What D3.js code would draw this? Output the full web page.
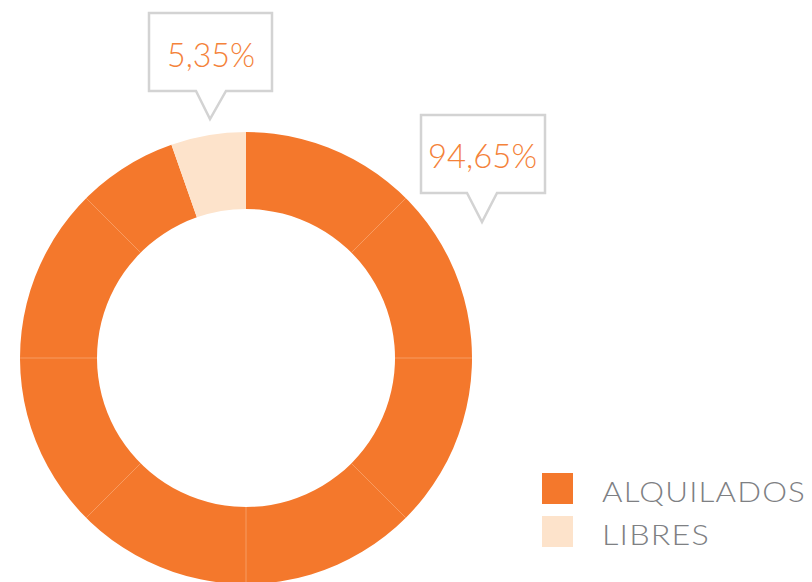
<!DOCTYPE html>
<html><head><meta charset="utf-8">
<script src="https://cdn.jsdelivr.net/npm/d3@7"></script>
<style>body{margin:0;background:#fff}svg{display:block}</style>
</head><body>
<script>
const categories = ["ALQUILADOS", "LIBRES"];
const values = [94.65, 5.35];
const labels = ["94,65%", "5,35%"];
const colors = ["#F4782C", "#FDE3CB"];

const W = 812, H = 582;
const svg = d3.select("body").append("svg").attr("width", W).attr("height", H);
const cx = 246, cy = 358, R = 226, r = 149;
const g = svg.append("g").attr("transform", `translate(${cx},${cy})`);

const pie = d3.pie().sort(null).value(d => d);
const arcs = pie(values);
const arc = d3.arc().innerRadius(r).outerRadius(R);
g.selectAll("path.slice").data(arcs).enter().append("path")
  .attr("class", "slice").attr("d", arc).attr("fill", (d, i) => colors[i]);

// faint seams in the orange ring every 45°
const seams = d3.range(1, 8).map(k => k * Math.PI / 4).filter(a => a < arcs[0].endAngle);
g.selectAll("line.seam").data(seams).enter().append("line")
  .attr("x1", a => r * Math.sin(a)).attr("y1", a => -r * Math.cos(a))
  .attr("x2", a => R * Math.sin(a)).attr("y2", a => -R * Math.cos(a))
  .attr("stroke", "#F9A56F").attr("stroke-width", 0.8);

// callouts
const callouts = [
  {box: [421, 115, 124, 78], tip: [482, 222], base: [467, 497], label: labels[0], tx: 482.5, ty: 168, tw: 109},
  {box: [149, 13, 123, 78], tip: [210, 119], base: [196, 226], label: labels[1], tx: 211, ty: 67, tw: 88}
];
callouts.forEach(c => {
  const [x, y, w, h] = c.box;
  const p = d3.path();
  p.moveTo(x, y); p.lineTo(x + w, y); p.lineTo(x + w, y + h);
  p.lineTo(c.base[1], y + h); p.lineTo(c.tip[0], c.tip[1]); p.lineTo(c.base[0], y + h);
  p.lineTo(x, y + h); p.closePath();
  svg.append("path").attr("d", p.toString()).attr("fill", "#fff")
    .attr("stroke", "#D3D3D3").attr("stroke-width", 2.5);
  svg.append("text").attr("x", c.tx).attr("y", c.ty).attr("text-anchor", "middle")
    .attr("font-family", "Lato, 'Open Sans', sans-serif").attr("font-weight", 300)
    .attr("font-size", 34).attr("fill", "#F4823A")
    .attr("textLength", c.tw).attr("lengthAdjust", "spacingAndGlyphs")
    .text(c.label);
});

// legend
const legendY = [473, 516];
const legendW = [204, 108];
const lg = svg.append("g");
categories.forEach((c, i) => {
  lg.append("rect").attr("x", 542).attr("y", legendY[i]).attr("width", 31).attr("height", 31)
    .attr("fill", colors[i]);
  lg.append("text").attr("x", 602).attr("y", legendY[i] + 29)
    .attr("font-family", "Lato, 'Open Sans', sans-serif").attr("font-weight", 300)
    .attr("font-size", 27).attr("fill", "#7E8083")
    .attr("letter-spacing", 1)
    .attr("textLength", legendW[i]).attr("lengthAdjust", "spacingAndGlyphs")
    .text(c);
});
</script>
</body></html>
